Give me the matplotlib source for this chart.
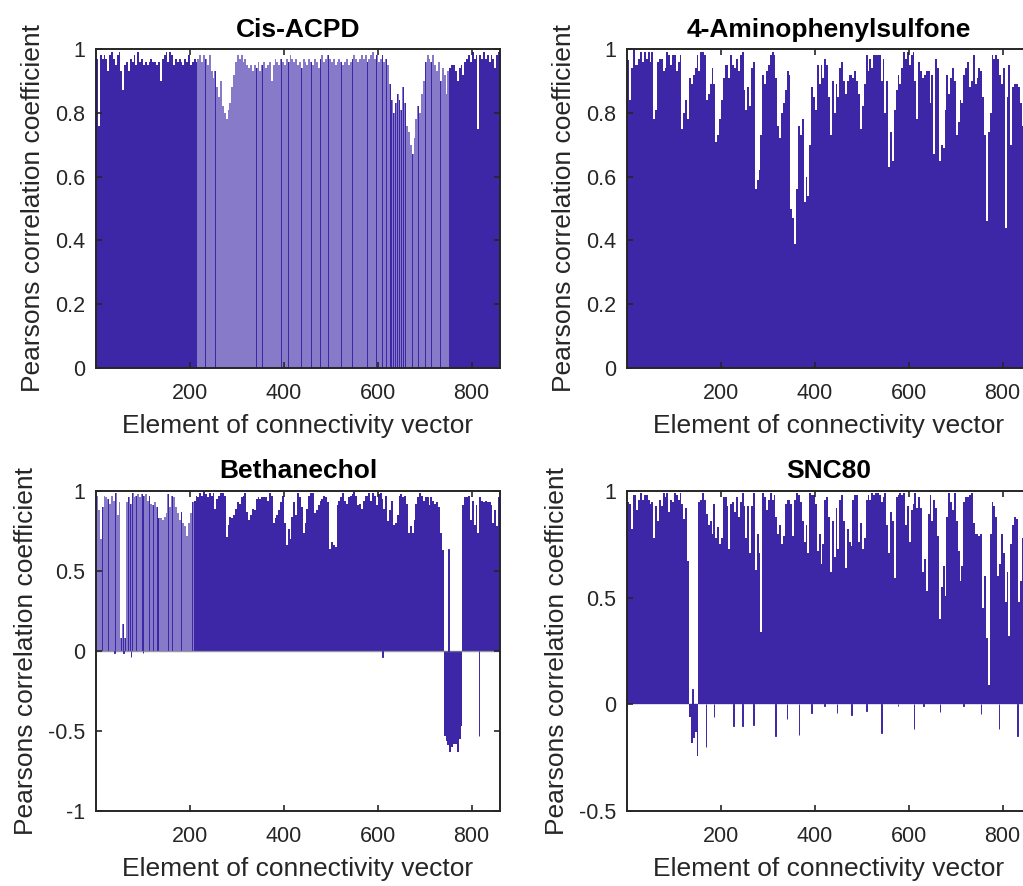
import numpy as np
import matplotlib.pyplot as plt

plt.rcParams['font.family'] = ['Liberation Sans', 'DejaVu Sans']

titles = ['Cis-ACPD', '4-Aminophenylsulfone', 'Bethanechol', 'SNC80']
n_elements = 860
bin_size = 4  # each bar below covers 4 neighbouring elements (about one screen pixel)

# Pearson r, one value per group of 4 elements
cis_acpd = [
    .97, .76, .98, .97, .98, .97, .93, .98, .99, .97,
    .95, .98, .99, .93, .87, .95, .96, .93, .97, .96,
    .98, .95, .99, .96, .97, .95, .96, .95, .96, .97,
    .96, .96, .95, .96, .90, .97, .98, .99, .96, .99,
    .98, .95, .97, .96, .97, .96, .95, .97, .96, .98,
    .95, .96, .97, .96, .97, .98, .96, .98, .97, .95,
    .98, .93, .91, .93, .88, .85, .90, .82, .80, .78,
    .81, .83, .88, .92, .96, .98, .97, .98, .96, .97,
    .95, .94, .95, .93, .95, .94, .96, .93, .95, .96,
    .94, .95, .96, .90, .95, .97, .96, .95, .97, .96,
    .95, .97, .96, .98, .97, .96, .97, .95, .96, .94,
    .97, .96, .95, .97, .96, .95, .97, .96, .94, .97,
    .98, .96, .97, .98, .97, .96, .97, .95, .96, .97,
    .96, .95, .96, .97, .95, .96, .97, .98, .97, .96,
    .97, .98, .97, .98, .96, .97, .98, .99, .97, .98,
    .96, .97, .98, .96, .97, .95, .89, .84, .80, .83,
    .86, .84, .81, .88, .83, .76, .74, .70, .67, .72,
    .78, .82, .80, .86, .90, .96, .98, .97, .96, .98,
    .95, .93, .96, .90, .94, .92, .86, .93, .94, .95,
    .95, .93, .90, .94, .95, .92, .96, .97, .98, .96,
    .99, .97, .98, .75, .98, .97, .99, .97, .98, .96,
    .98, .97, .94, .98, .99,
]

aminophenylsulfone = [
    .965, .84, .94, 1.0, .95, .95, .97, .99, .96, .99,
    .97, .99, .96, .99, .78, .81, .96, .97, .97, .93,
    .94, .99, .98, .95, .98, .98, .93, .96, .98, .75,
    .80, .84, .78, .91, .89, .92, .94, .98, .93, .99,
    .99, .98, .84, .86, .89, .94, .89, .71, .73, .78,
    .84, .91, .95, .95, .91, .98, .95, .94, .97, .93,
    .98, .99, .87, .81, .88, .82, .94, .96, .56, .59,
    .62, .73, .92, .89, .93, .95, .98, .99, .98, .91,
    .76, .72, .80, .83, .87, .93, .92, .50, .47, .39,
    .56, .76, .73, .78, .52, .60, .54, .70, .88, .85,
    .81, .95, .89, .95, .91, .97, .95, .85, .73, .90,
    .80, .89, .85, .94, .96, .90, .86, .90, .92, .92,
    .91, .93, .90, .86, .75, .82, .89, .98, .93, .97,
    .94, .98, .98, .98, .98, .90, .97, .80, .90, .63,
    .74, .65, .81, .87, .92, .89, .94, .99, .97, .99,
    .95, .98, .99, .90, .78, .96, .93, .91, .92, .93,
    .93, .83, .92, .67, .97, .94, .65, .70, .69, .81,
    .92, .86, .91, .94, .90, .73, .77, .84, .83, .92,
    .94, .96, .88, .90, .98, .89, .91, .94, .93, .85,
    .73, .46, .74, .80, .98, .97, .98, .97, .92, .89,
    .94, .44, .85, .95, .70, .88, .89, .89, .88, .83,
    .76, .87, .90, .85, .92,
]

bethanechol = [
    .97, .88, .70, .90, .97, .96, .95, .92, .97, .94,
    .99, .85, .93, .08, .17, .08, .93, .96, .92, .99,
    .96, .97, .98, .96, .98, .97, .98, .94, .97, .92,
    .91, .93, .90, .83, .83, .82, .84, .86, .98, .90,
    .97, .96, .90, .86, .82, .87, .80, .78, .72, .80,
    .86, .93, .94, .97, .96, .99, .97, 1.0, .98, .96,
    .99, .97, .99, .89, .95, .97, .99, .99, .97, .71,
    .79, .84, .83, .85, .89, .93, .92, .96, .97, .99,
    .87, .82, .85, .89, .88, .95, .96, .95, .96, .96,
    .96, .94, .99, .97, .80, .83, .85, .88, .93, .97,
    .80, .66, .76, .70, .84, .93, .85, .99, .96, .90,
    .74, .80, .89, .97, .99, .99, .86, .88, .91, .94,
    .95, .97, .96, .93, .64, .68, .66, .65, .91, .94,
    .96, .99, .94, .92, .96, .97, .98, 1.0, .97, .91,
    .92, .89, .94, .97, .97, .99, .94, .99, .97, .91,
    .98, .99, .95, .89, .97, .81, .88, .94, .79, .80,
    .85, .97, .98, .96, .97, .92, .74, .78, .74, .82,
    .92, .96, .99, .97, .94, .96, .96, .91, .96, .94,
    .92, .93, .90, .74, .63, -.53, -.56, -.59, -.63, -.60,
    -.58, -.58, -.63, -.55, -.47, .91, .96, .96, .97, .82,
    .94, .79, .91, .74, .96, .94, .93, .94, .93, .93,
    .91, .80, .88, .78, .96,
]

snc80 = [
    .95, .94, .82, .98, .98, .91, .96, .99, .96, .98,
    .98, .96, .94, .95, .78, .93, .86, .96, .93, .99,
    .97, .99, .90, .96, .95, .99, .98, .96, .99, .94,
    .87, .92, .67, -.06, -.18, -.16, -.13, -.24, .95, .96,
    .99, .96, .89, .84, .86, .80, .94, .78, .83, .75,
    .78, .97, .97, .93, .73, .94, .95, .90, .97, .88,
    .95, .99, .93, .78, .93, .71, .93, .99, .63, .80,
    .71, .34, .99, .97, .91, .96, .99, .96, .98, .88,
    .80, .84, .75, .79, .94, .96, .96, .94, .79, .96,
    .99, .98, .95, .86, .76, .84, .71, .99, .98, .98,
    .94, .72, .80, .66, .75, .96, .97, .88, .62, .86,
    .69, .92, .73, .96, .98, .86, .64, .82, .76, .74,
    .96, .98, .98, .76, .85, .73, .78, .96, .98, .96,
    .99, .98, .99, .99, .98, .95, .97, .99, .84, .71,
    .90, .86, .59, .97, .98, .99, .98, .99, .84, .93,
    .76, .91, .94, .99, .92, .97, .92, .62, .68, .53,
    .89, .98, .86, .96, .92, .79, .40, .55, .65, .51,
    .88, .99, .95, .91, .99, .86, .72, .58, .65, .95,
    .97, .97, .98, .99, .85, .80, .80, .79, .80, .45,
    .60, .31, .09, .80, .95, .93, .88, .60, .66, .80,
    .71, .48, .62, .32, .75, .84, .88, .87, .48, .58,
    .78, .85, .80, .90, .88,
]

# single elements that stand out from their group
beth_spike_idx = [40, 59, 75, 100, 610, 751, 816]
beth_spike_val = [-0.01, -0.015, -0.035, -0.015, -0.04, 0.64, -0.53]
snc_spike_idx = [140, 169, 186, 227, 246, 270, 317, 341, 367, 393, 421, 447,
                 478, 510, 542, 577, 611, 632, 667, 717, 754, 792, 832]
snc_spike_val = [0.07, -0.20, -0.06, -0.10, -0.10, -0.095, -0.15, -0.07, -0.145,
                 -0.04, -0.01, -0.04, -0.05, -0.03, -0.135, -0.01, -0.115, -0.01,
                 -0.035, -0.01, -0.045, -0.115, -0.15]

series = [cis_acpd, aminophenylsulfone, bethanechol, snc80]
spikes = [None, None, (beth_spike_idx, beth_spike_val), (snc_spike_idx, snc_spike_val)]

ylims = [(0, 1), (0, 1), (-1, 1), (-0.5, 1)]
yticks = [[0, 0.2, 0.4, 0.6, 0.8, 1], [0, 0.2, 0.4, 0.6, 0.8, 1],
          [-1, -0.5, 0, 0.5, 1], [-0.5, 0, 0.5, 1]]
yticklabels = [['0', '0.2', '0.4', '0.6', '0.8', '1'], ['0', '0.2', '0.4', '0.6', '0.8', '1'],
               ['-1', '-0.5', '0', '0.5', '1'], ['-0.5', '0', '0.5', '1']]
xticks = [200, 400, 600, 800]

# washed-out stretches (bins) and the solid bars standing inside them
faint = [(54, 187), None, (0, 51), None]
solid_in_faint = [
    [58, 63, 74, 82, 85, 88, 98, 102, 109, 114, 119, 123, 130, 136, 140, 144, 149,
     152, 154, 156, 157, 158, 159, 160, 161, 162, 163, 164, 165, 168, 171, 175, 178, 183],
    [],
    [0, 3, 6, 10, 13, 14, 15, 17, 18, 19, 21, 24, 25, 28, 30, 32, 33, 38, 40, 45, 51],
    [],
]

DARK = '#3d27a6'
LIGHT = '#877bc9'
INK = '#262626'

W, H = 1023, 886
rects = [(96, 49, 404, 319), (627, 49, 404, 319), (96, 491, 404, 320), (627, 491, 404, 320)]

fig = plt.figure(figsize=(W / 100, H / 100), dpi=100)

for i in range(4):
    l, t, w, h = rects[i]
    ax = fig.add_axes([l / W, 1 - (t + h) / H, w / W, h / H])
    vals = np.array(series[i])
    assert len(vals) * bin_size == n_elements
    x = bin_size * np.arange(len(vals)) + (bin_size + 1) / 2
    colors = [DARK] * len(vals)
    if faint[i]:
        a, b = faint[i]
        for k in range(a, b + 1):
            colors[k] = LIGHT
    ax.bar(x, vals, width=bin_size, color=colors, linewidth=0, antialiased=False)
    if solid_in_faint[i]:
        sk = solid_in_faint[i]
        # thin solid lines inside the washed-out stretch
        ax.bar(x[sk], vals[sk], width=2, color=DARK, linewidth=0, zorder=1.2)
    if spikes[i]:
        idx, sv = spikes[i]
        ax.bar(idx, sv, width=1, color=DARK, edgecolor=DARK, linewidth=0.7, zorder=1.6)
        if i == 2:
            ax.axhline(0, color='#7d7d8c', lw=1.0, alpha=0.8, zorder=1.5)
        else:
            ax.axhline(0, color='#d4d2e4', lw=1.2, zorder=0.5)

    ax.set_xlim(0.5, n_elements + 0.5)
    ax.set_ylim(*ylims[i])
    ax.set_xticks(xticks)
    ax.set_yticks(yticks[i])
    ax.set_yticklabels(yticklabels[i])
    ax.tick_params(direction='in', length=4, width=1.2, top=True, right=True,
                   labelsize=15.5, colors=INK, pad=8)
    ax.tick_params(axis='x', pad=11)
    for s in ax.spines.values():
        s.set_linewidth(1.4)
        s.set_color(INK)
    ax.set_title(titles[i], fontsize=19, fontweight='bold', color='black', pad=9)
    ax.set_xlabel('Element of connectivity vector', fontsize=19, color=INK, labelpad=7)
    ax.set_ylabel('Pearsons correlation coefficient', fontsize=19, color=INK, labelpad=7)

fig.savefig('out.png', dpi=100)
